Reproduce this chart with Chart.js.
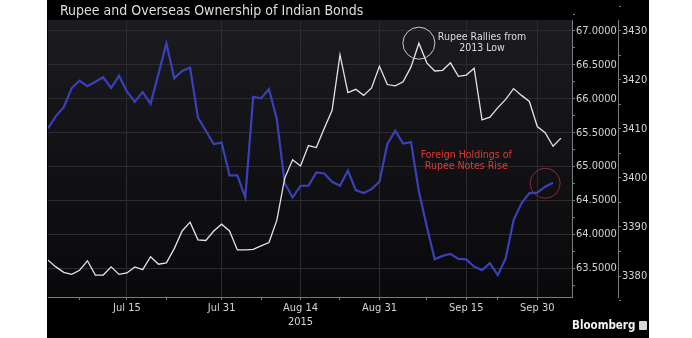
<!DOCTYPE html>
<html>
<head>
<meta charset="utf-8">
<script src="https://cdn.jsdelivr.net/npm/chart.js@4/dist/chart.umd.min.js"></script>
<style>
  html, body { margin: 0; padding: 0; background: #fff; }
  body { width: 692px; height: 338px; position: relative; overflow: hidden; }
  #panel { position: absolute; left: 47px; top: 0; width: 602px; height: 338px; background: #000; }
  #chart { position: absolute; left: 0; top: 0; }
  #title { position: absolute; left: 13px; top: 2px; color: #dedede; font: 14px "DejaVu Sans Condensed", "DejaVu Sans", sans-serif; white-space: nowrap; }
  #brand { position: absolute; left: 525px; top: 318px; color: #f2f2f2; font: bold 11.5px "DejaVu Sans Condensed", "DejaVu Sans", sans-serif; white-space: nowrap; }
  #brand span { display: inline-block; width: 8px; height: 9px; margin-left: 4px; background: #d8d8d8; border-radius: 1px; vertical-align: -1px; }
</style>
</head>
<body>
<div id="panel">
  <canvas id="chart" width="602" height="338"></canvas>
  <div id="title">Rupee and Overseas Ownership of Indian Bonds</div>
  <div id="brand">Bloomberg<span></span></div>
</div>
<script>
// Indian market trading days, Jul 1 – Oct 6, 2015
const tradingDays = [
  'Jul 1','Jul 2','Jul 3','Jul 6','Jul 7','Jul 8','Jul 9','Jul 10','Jul 13','Jul 14',
  'Jul 15','Jul 16','Jul 17','Jul 20','Jul 21','Jul 22','Jul 23','Jul 24','Jul 27','Jul 28',
  'Jul 29','Jul 30','Jul 31','Aug 3','Aug 4','Aug 5','Aug 6','Aug 7','Aug 10','Aug 11',
  'Aug 12','Aug 13','Aug 14','Aug 17','Aug 19','Aug 20','Aug 21','Aug 24','Aug 25','Aug 26',
  'Aug 27','Aug 28','Aug 31','Sep 1','Sep 2','Sep 3','Sep 4','Sep 7','Sep 8','Sep 9',
  'Sep 10','Sep 11','Sep 14','Sep 15','Sep 16','Sep 18','Sep 21','Sep 22','Sep 23','Sep 24',
  'Sep 28','Sep 29','Sep 30','Oct 1','Oct 5','Oct 6'
];

// USD/INR spot
const rupee = [
  63.62, 63.52, 63.44, 63.41, 63.47, 63.61, 63.40, 63.40, 63.52, 63.41,
  63.43, 63.52, 63.48, 63.67, 63.56, 63.58, 63.79, 64.05, 64.18, 63.92,
  63.91, 64.05, 64.15, 64.05, 63.77, 63.77, 63.78, 63.83, 63.88, 64.21,
  64.83, 65.10, 65.01, 65.31, 65.28, 65.56, 65.83, 66.65, 66.09, 66.14,
  66.05, 66.16, 66.48, 66.21, 66.19, 66.25, 66.47, 66.82, 66.53, 66.41,
  66.42, 66.53, 66.33, 66.35, 66.45, 65.69, 65.73, 65.87, 65.99, 66.15,
  66.05, 65.96, 65.59, 65.50, 65.30, 65.42
];

// Foreign holdings of rupee notes
const holdings = [
  3410.1, 3412.6, 3414.4, 3418.3, 3419.8, 3418.7, 3419.6, 3420.5, 3418.3, 3420.8,
  3417.6, 3415.5, 3417.5, 3415.1, 3421.2, 3427.4, 3420.3, 3421.8, 3422.5, 3412.3,
  3409.6, 3406.9, 3407.2, 3400.5, 3400.5, 3396.0, 3416.5, 3416.2, 3418.1, 3411.9,
  3398.9, 3396.0, 3398.4, 3398.4, 3401.1, 3400.9, 3399.2, 3398.4, 3401.5, 3397.5,
  3396.9, 3397.7, 3399.2, 3406.9, 3409.6, 3407.0, 3407.3, 3397.2, 3390.1, 3383.4,
  3384.1, 3384.5, 3383.5, 3383.4, 3381.9, 3381.2, 3382.6, 3380.2, 3383.6, 3391.4,
  3394.8, 3396.9, 3397.0, 3398.2, 3399.0
];

// Labelled dates on the time axis, and the unlabelled minor marks between them
const labelledDays = ['Jul 15', 'Jul 31', 'Aug 14', 'Aug 31', 'Sep 15', 'Sep 30'];
const minorDays = ['Jul 7', 'Jul 22', 'Aug 7', 'Aug 24', 'Sep 8', 'Sep 22'];
const yearLabel = { day: 'Aug 14', text: '2015' };

const rupeeTicks = [63.5, 64.0, 64.5, 65.0, 65.5, 66.0, 66.5, 67.0];
const holdingTicks = [3380, 3390, 3400, 3410, 3420, 3430];

const majorIdx = labelledDays.map(d => tradingDays.indexOf(d));
const minorIdx = minorDays.map(d => tradingDays.indexOf(d));

const GRID = '#2b2b30';
const AXIS = '#7a7a7a';
const TEXT = '#d4d4d4';
const FONT = { family: '"DejaVu Sans Condensed", "DejaVu Sans", sans-serif', size: 11 };

function withMinors(major, step) {
  const out = [];
  major.forEach(v => {
    out.push(v - step);
    out.push(v);
  });
  out.push(major[major.length - 1] + step);
  return out;
}

const plotShade = {
  id: 'plotShade',
  beforeDraw(chart) {
    const { ctx, chartArea: a } = chart;
    const g = ctx.createLinearGradient(0, a.top, 0, a.bottom);
    g.addColorStop(0, '#1b1b20');
    g.addColorStop(1, '#09090b');
    ctx.save();
    ctx.fillStyle = g;
    ctx.fillRect(a.left, a.top, a.right - a.left, a.bottom - a.top);
    ctx.restore();
  }
};

const callouts = {
  id: 'callouts',
  afterDatasetsDraw(chart) {
    const { ctx } = chart;
    const x = chart.scales.x, yr = chart.scales.yRupee, yh = chart.scales.yHold;
    ctx.save();
    ctx.lineWidth = 1;
    // circle round the rupee's weakest close
    const pk = rupee.indexOf(Math.max(...rupee));
    ctx.strokeStyle = '#c8c8c8';
    ctx.beginPath();
    ctx.arc(x.getPixelForValue(pk), yr.getPixelForValue(rupee[pk]), 16, 0, Math.PI * 2);
    ctx.stroke();
    // circle round the latest holdings
    const hk = tradingDays.indexOf('Oct 1');
    ctx.strokeStyle = '#8a2a36';
    ctx.beginPath();
    ctx.arc(x.getPixelForValue(hk), yh.getPixelForValue(3398.9), 15, 0, Math.PI * 2);
    ctx.stroke();

    ctx.font = '10.5px "DejaVu Sans Condensed", "DejaVu Sans", sans-serif';
    ctx.textAlign = 'center';
    ctx.textBaseline = 'middle';
    ctx.fillStyle = '#dcdcdc';
    const tx = x.getPixelForValue(tradingDays.indexOf('Sep 18'));
    ctx.fillText('Rupee Rallies from', tx, yr.getPixelForValue(66.90));
    ctx.fillText('2013 Low', tx, yr.getPixelForValue(66.75));
    ctx.fillStyle = '#e03a30';
    const rx = x.getPixelForValue(tradingDays.indexOf('Sep 15'));
    ctx.fillText('Foreign Holdings of', rx, yr.getPixelForValue(65.16));
    ctx.fillText('Rupee Notes Rise', rx, yr.getPixelForValue(65.01));
    ctx.restore();
  }
};

new Chart(document.getElementById('chart'), {
  type: 'line',
  data: {
    datasets: [
      {
        label: 'Rupee',
        data: rupee.map((v, i) => ({ x: i, y: v })),
        yAxisID: 'yRupee',
        borderColor: '#e4e4e4',
        borderWidth: 1.3,
        pointRadius: 0,
        tension: 0
      },
      {
        label: 'Foreign holdings',
        data: holdings.map((v, i) => ({ x: i, y: v })),
        yAxisID: 'yHold',
        borderColor: '#3a40b8',
        borderWidth: 2.2,
        pointRadius: 0,
        tension: 0
      }
    ]
  },
  options: {
    responsive: false,
    animation: false,
    events: [],
    layout: { padding: { left: 1, top: 20, right: 0, bottom: 0 } },
    plugins: { legend: { display: false }, tooltip: { enabled: false }, title: { display: false } },
    scales: {
      x: {
        type: 'linear',
        min: 0,
        max: 66.4,
        afterBuildTicks(s) {
          s.ticks = [...majorIdx, ...minorIdx].sort((a, b) => a - b).map(v => ({ value: v }));
        },
        afterFit(s) { s.height = 41; },
        ticks: {
          autoSkip: false,
          maxRotation: 0,
          padding: 2,
          color: TEXT,
          font: FONT,
          callback(v) {
            const d = tradingDays[v];
            if (!labelledDays.includes(d)) return '';
            return d === yearLabel.day ? [d, yearLabel.text] : d;
          }
        },
        grid: {
          color: c => majorIdx.includes(c.tick && c.tick.value) ? GRID : 'rgba(0,0,0,0)',
          tickColor: AXIS,
          tickLength: 3,
          drawOnChartArea: true
        },
        border: { color: AXIS }
      },
      yRupee: {
        position: 'right',
        min: 63.076,
        max: 67.162,
        afterBuildTicks(s) {
          s.ticks = withMinors(rupeeTicks, 0.25).map(v => ({ value: v }));
        },
        afterFit(s) { s.width = 46; },
        ticks: {
          padding: 1,
          color: TEXT,
          font: FONT,
          callback: v => rupeeTicks.includes(v) ? v.toFixed(4) : ''
        },
        grid: {
          color: c => rupeeTicks.includes(c.tick && c.tick.value) ? GRID : 'rgba(0,0,0,0)',
          tickColor: AXIS,
          tickLength: 3
        },
        border: { color: AXIS }
      },
      yHold: {
        position: 'right',
        min: 3375.72,
        max: 3432.18,
        afterBuildTicks(s) {
          s.ticks = withMinors(holdingTicks, 5).map(v => ({ value: v }));
        },
        afterFit(s) { s.width = 31; },
        ticks: {
          padding: 1,
          color: TEXT,
          font: FONT,
          callback: v => holdingTicks.includes(v) ? String(v) : ''
        },
        grid: {
          drawOnChartArea: false,
          tickColor: AXIS,
          tickLength: 3
        },
        border: { color: AXIS }
      }
    }
  },
  plugins: [plotShade, callouts]
});
</script>
</body>
</html>
